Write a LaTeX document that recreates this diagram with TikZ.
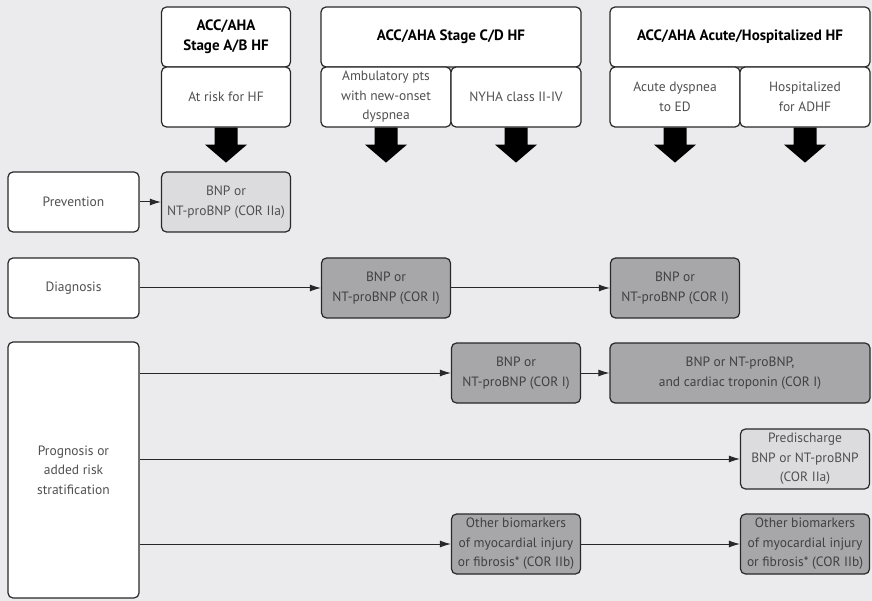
\documentclass[tikz,border=0pt]{standalone}
\usepackage{fontspec}
\setmainfont{PT Sans}
\usetikzlibrary{arrows.meta}
\definecolor{bgcol}{RGB}{235,235,237}
\definecolor{lightbox}{RGB}{220,220,222}
\definecolor{darkbox}{RGB}{167,167,169}
\definecolor{txtcol}{RGB}{80,80,82}
\definecolor{linecol}{RGB}{40,40,40}
\tikzset{
  box/.style={draw=linecol,line width=1.2pt,rounded corners=5pt,fill=white,align=center,
    minimum width=129pt,minimum height=60pt,inner sep=1pt,text=txtcol,
    font=\fontsize{13.5}{19.5}\selectfont},
  headbox/.style={box,text=black,font=\fontsize{15}{20}\selectfont\bfseries},
  lightbnp/.style={box,fill=lightbox},
  darkbnp/.style={box,fill=darkbox,text=black!75},
  link/.style={draw=linecol,line width=1pt,-{Latex[length=11pt,width=7pt]}},
  fat/.style={fill=black}
}
\newcommand{\fatarrow}[1]{%
  \fill[fat,shift={(#1.south)}] (-11.5,0) -- (11.5,0) -- (11.5,17) -- (21,17) -- (0,35)
    -- (-21,17) -- (-11.5,17) -- cycle;}
\begin{document}
\begin{tikzpicture}[x=1pt,y=-1pt]
\fill[bgcol] (0,0) rectangle (872,601);
\useasboundingbox (0,0) rectangle (872,601);

% column heads
\node[headbox] (hAB) at (226,37) {ACC/AHA\\Stage A/B HF};
\node[box] (sAB) at (226,97) {At risk for HF};
\node[headbox,minimum width=260pt] (hCD) at (451,37) {ACC/AHA Stage C/D HF};
\node[box,minimum width=130pt] (sCDa) at (386,97) {Ambulatory pts\\with new-onset\\dyspnea};
\node[box,minimum width=130pt] (sCDb) at (516,97) {NYHA class II-IV};
\node[headbox,minimum width=260pt] (hAc) at (740,37) {ACC/AHA Acute/Hospitalized HF};
\node[box,minimum width=130pt] (sAca) at (675,97) {Acute dyspnea\\to ED};
\node[box,minimum width=130pt] (sAcb) at (805,97) {Hospitalized\\for ADHF};

\foreach \n in {sAB,sCDa,sCDb,sAca,sAcb}
  {\fatarrow{\n}}

% rows
\node[box,minimum width=131pt] (prev) at (73.5,202) {Prevention};
\node[lightbnp] (prevBNP) at (226,202) {BNP or\\NT-proBNP (COR IIa)};

\node[box,minimum width=131pt] (diag) at (73.5,288) {Diagnosis};
\node[darkbnp] (diagBNPa) at (386,288) {BNP or\\NT-proBNP (COR I)};
\node[darkbnp] (diagBNPb) at (675,288) {BNP or\\NT-proBNP (COR I)};

\node[box,minimum width=131pt,minimum height=256pt] (prog) at (73.5,470)
  {Prognosis or\\added risk\\stratification};
\node[darkbnp] (progBNP) at (516,373) {BNP or\\NT-proBNP (COR I)};
\node[darkbnp,minimum width=260pt] (progTrop) at (740,373)
  {BNP or NT-proBNP,\\and cardiac troponin (COR I)};
\node[lightbnp] (progPre) at (805,459) {Predischarge\\BNP or NT-proBNP\\(COR IIa)};
\node[darkbnp] (progOtha) at (516,544) {Other biomarkers\\of myocardial injury\\or fibrosis* (COR IIb)};
\node[darkbnp] (progOthb) at (805,544) {Other biomarkers\\of myocardial injury\\or fibrosis* (COR IIb)};

% connectors
\draw[link] (prev) -- (prevBNP);
\draw[link] (diag) -- (diagBNPa);
\draw[link] (diagBNPa) -- (diagBNPb);
\draw[link] (prog.east |- progBNP) -- (progBNP);
\draw[link] (progBNP) -- (progTrop);
\draw[link] (prog.east |- progPre) -- (progPre);
\draw[link] (prog.east |- progOtha) -- (progOtha);
\draw[link] (progOtha) -- (progOthb);
\end{tikzpicture}
\end{document}
